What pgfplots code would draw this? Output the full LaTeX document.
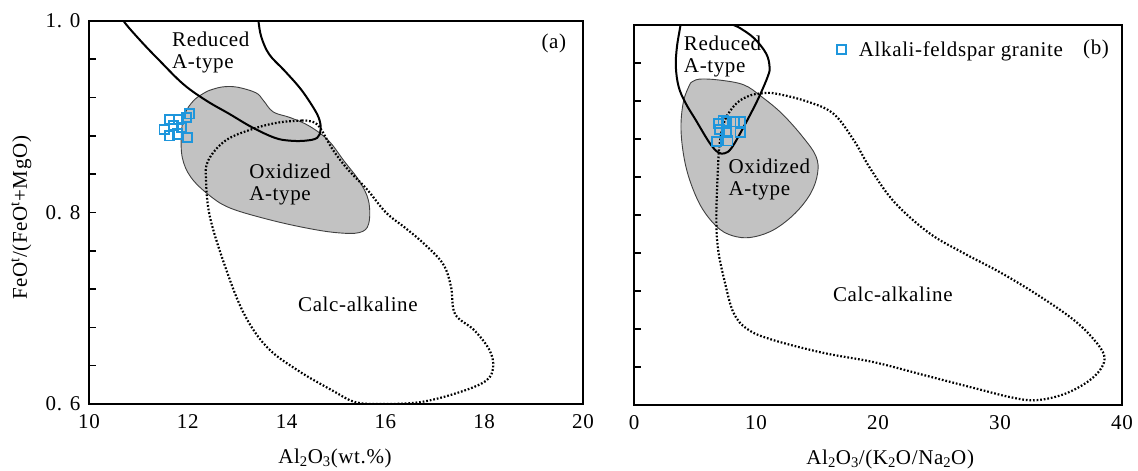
\documentclass[border=0pt]{standalone}
\usepackage{fontspec}
\setmainfont{Liberation Serif}[LetterSpace=3]
\usepackage{pgfplots}
\pgfplotsset{compat=1.18}

\definecolor{regiongray}{RGB}{194,194,194}
\definecolor{sampleblue}{RGB}{30,150,220}

\tikzset{region label/.style={anchor=west, inner sep=0pt, align=left,
  font=\fontsize{21}{22}\selectfont}}

\pgfplotsset{
  diagram/.style={
    scale only axis,
    axis line style={line width=2.2pt, black},
    tick align=inside,
    ytick pos=left,
    xtick pos=bottom,
    major tick length=7pt,
    y tick style={line width=1.6pt, black},
    x tick style={draw=none},
    ymin=0.6, ymax=1.0,
    ytick={0.6,0.64,0.68,0.72,0.76,0.8,0.84,0.88,0.92,0.96,1.0},
    yticklabel style={xshift=-5pt},
    xticklabel style={yshift=-7pt},
    /pgf/number format/assume math mode=true,
  },
  reduced/.style={black, line width=2pt, smooth, tension=0.6},
  oxidized/.style={draw=black!75, line width=0.9pt, fill=regiongray, smooth, tension=0.6},
  calcalk/.style={black, line width=2.2pt, dash pattern=on 1.7pt off 1.9pt, smooth, tension=0.6},
  samples/.style={only marks, mark=square, mark size=4.6pt,
    mark options={draw=sampleblue, line width=1.9pt, fill=none}},
}

\begin{document}
\begin{tikzpicture}[font=\fontsize{21}{25}\selectfont]
\useasboundingbox (0,0) rectangle (1138pt,471pt);

% (a) FeOt/(FeOt+MgO) vs Al2O3
\begin{axis}[diagram,
  at={(89pt,67pt)}, anchor=south west, width=494pt, height=383pt,
  xmin=10, xmax=20, xtick={10,12,14,16,18,20},
  yticklabels={0. 6,,,,,0. 8,,,,,1. 0},
  xlabel={Al\textsubscript{2}O\textsubscript{3}(wt.\%)},
  ylabel={FeO\textsuperscript{t}/(FeO\textsuperscript{t}+MgO)},
  xlabel style={at={(axis description cs:0.498,-0.143)}, anchor=center},
  ylabel style={at={(axis description cs:-0.137,0.486)}, anchor=center},
]
% oxidized A-type field
\addplot[oxidized] coordinates {
  (12.41,0.927)(12.68,0.931)(12.99,0.931)(13.38,0.925)(13.53,0.917)(13.73,0.905)
  (14.08,0.899)(14.47,0.890)(14.85,0.875)(15.16,0.854)(15.47,0.833)(15.66,0.812)
  (15.66,0.788)(15.47,0.779)(15.00,0.779)(14.38,0.784)(13.61,0.793)(12.84,0.805)
  (12.41,0.819)(12.06,0.837)(11.89,0.857)(11.87,0.882)(11.94,0.903)(12.14,0.918)
  (12.41,0.927)
};
% calc-alkaline field
\addplot[calcalk] coordinates {
  (14.31,0.896)(14.62,0.892)(14.93,0.866)(15.24,0.845)(15.63,0.824)(16.01,0.800)
  (16.40,0.784)(16.79,0.767)(17.17,0.746)(17.33,0.722)(17.41,0.694)(17.80,0.677)
  (18.11,0.656)(18.18,0.638)(18.03,0.624)(17.48,0.612)(16.71,0.602)(15.93,0.600)
  (15.39,0.602)(14.93,0.614)(14.23,0.635)(13.61,0.659)(13.14,0.694)(12.76,0.743)
  (12.45,0.795)(12.37,0.833)(12.41,0.854)(12.76,0.875)(13.30,0.887)(13.84,0.894)
  (14.31,0.896)
};
% reduced A-type field
\addplot[reduced] coordinates {
  (10.64,1.010)(10.70,1.000)(11.05,0.979)(11.44,0.958)(11.91,0.934)(12.37,0.917)
  (12.84,0.903)(13.30,0.889)(13.76,0.878)(14.07,0.875)(14.38,0.875)(14.62,0.878)
  (14.69,0.887)(14.65,0.899)(14.50,0.913)(14.27,0.930)(13.96,0.948)(13.65,0.965)
  (13.49,0.983)(13.43,1.000)(13.42,1.008)
};
% alkali-feldspar granite samples
\addplot[samples] coordinates {
  (11.52,0.887)(11.63,0.897)(11.81,0.897)(11.98,0.899)(11.63,0.880)
  (11.79,0.882)(11.99,0.878)(11.87,0.889)(11.71,0.891)(12.04,0.903)
};
\node[region label] at (axis cs:11.68,0.967) {Reduced\\A-type};
\node[region label] at (axis cs:13.24,0.8295) {Oxidized\\A-type};
\node[region label] at (axis cs:14.23,0.704) {Calc-alkaline};
\node[anchor=center, inner sep=0pt] at (axis cs:19.41,0.977) {(a)};
\end{axis}

% (b) FeOt/(FeOt+MgO) vs Al2O3/(K2O/Na2O)
\begin{axis}[diagram,
  at={(634pt,66pt)}, anchor=south west, width=488pt, height=380pt,
  xmin=0, xmax=40, xtick={0,10,20,30,40},
  yticklabels={},
  xlabel={Al\textsubscript{2}O\textsubscript{3}/(K\textsubscript{2}O/Na\textsubscript{2}O)},
  xlabel style={at={(axis description cs:0.525,-0.142)}, anchor=center},
  legend style={at={(axis cs:16.6,0.974)}, anchor=west, draw=none, fill=none,
    inner sep=0pt, column sep=11pt},
]
% oxidized A-type field
\addplot[oxidized, forget plot] coordinates {
  (4.64,0.939)(5.34,0.943)(7.03,0.942)(9.00,0.937)(10.41,0.925)(12.10,0.907)
  (13.78,0.883)(14.91,0.862)(15.05,0.844)(14.49,0.823)(13.22,0.802)(11.53,0.785)
  (9.85,0.777)(8.44,0.777)(7.03,0.785)(5.63,0.806)(4.64,0.834)(4.08,0.862)
  (3.85,0.893)(4.08,0.921)(4.64,0.939)
};
% calc-alkaline field
\addplot[calcalk, forget plot] coordinates {
  (10.41,0.928)(11.53,0.928)(14.06,0.920)(16.31,0.907)(18.00,0.879)(19.41,0.848)
  (21.38,0.813)(24.19,0.781)(27.00,0.760)(30.10,0.739)(33.19,0.715)(36.00,0.690)
  (37.69,0.669)(38.54,0.652)(38.26,0.638)(37.13,0.624)(35.16,0.611)(32.91,0.605)
  (30.94,0.608)(28.13,0.617)(23.91,0.631)(19.69,0.645)(15.47,0.655)(11.25,0.669)
  (9.28,0.680)(8.16,0.697)(7.45,0.729)(6.89,0.764)(6.75,0.799)(6.89,0.851)
  (7.03,0.876)(7.45,0.900)(8.44,0.918)(9.56,0.926)(10.41,0.928)
};
% reduced A-type field
\addplot[reduced, forget plot] coordinates {
  (3.85,1.006)(3.80,0.999)(3.52,0.977)(3.43,0.956)(3.66,0.935)(4.22,0.918)
  (5.06,0.900)(6.19,0.876)(6.89,0.866)(7.45,0.865)(8.02,0.871)(9.00,0.893)
  (10.13,0.921)(10.97,0.946)(11.11,0.956)(10.83,0.970)(9.85,0.986)(8.72,0.9965)
  (8.16,1.000)(7.88,1.003)
};
% alkali-feldspar granite samples
\addplot[samples] coordinates {
  (6.90,0.896)(7.60,0.898)(8.70,0.898)(6.75,0.877)(8.70,0.887)
  (7.60,0.887)(7.00,0.890)(7.70,0.878)(8.20,0.898)(7.30,0.899)
};
\addlegendentry{Alkali-feldspar granite}
\node[region label] at (axis cs:4.08,0.9665) {Reduced\\A-type};
\node[region label] at (axis cs:7.74,0.8375) {Oxidized\\A-type};
\node[region label] at (axis cs:16.3,0.717) {Calc-alkaline};
\node[anchor=center, inner sep=0pt] at (axis cs:37.87,0.974) {(b)};
\end{axis}
\end{tikzpicture}
\end{document}
